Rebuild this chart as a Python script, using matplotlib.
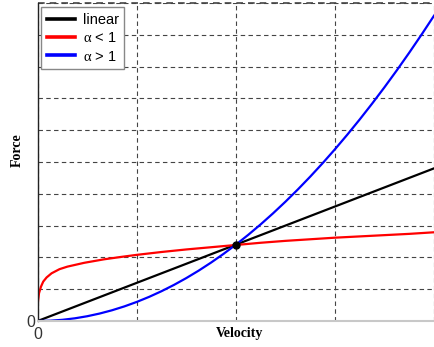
import matplotlib
matplotlib.use("Agg")
import matplotlib.pyplot as plt

# Force vs velocity for a damper F = c * v^alpha
velocity = [0.0, 0.125, 0.25, 0.375, 0.5, 0.625, 0.75, 0.875, 1.0, 1.125, 1.25, 1.375,
            1.5, 1.625, 1.75, 1.875, 2.0, 2.125, 2.25, 2.375, 2.5, 2.625, 2.75, 2.875,
            3.0, 3.125, 3.25, 3.375, 3.5, 3.625, 3.75, 3.875, 4.0]
force_linear = [0.0, 0.15, 0.3, 0.45, 0.6, 0.75, 0.9, 1.05, 1.2, 1.35, 1.5, 1.65,
                1.8, 1.95, 2.1, 2.25, 2.4, 2.55, 2.7, 2.85, 3.0, 3.15, 3.3, 3.45,
                3.6, 3.75, 3.9, 4.05, 4.2, 4.35, 4.5, 4.65, 4.8]
force_alpha_gt1 = [0.0, 0.0094, 0.0375, 0.0844, 0.15, 0.2344, 0.3375, 0.4594, 0.6, 0.7594,
                   0.9375, 1.1344, 1.35, 1.5844, 1.8375, 2.1094, 2.4, 2.7094, 3.0375, 3.3844,
                   3.75, 4.1344, 4.5375, 4.9594, 5.4, 5.8594, 6.3375, 6.8344, 7.35, 7.8844,
                   8.4375, 9.0094, 9.6]

velocity_lt1 = [0.003, 0.013, 0.033, 0.056, 0.09, 0.14, 0.22, 0.30, 0.47, 0.67, 0.83, 1.0,
                1.25, 1.5, 1.75, 2.0, 2.25, 2.5, 2.75, 3.0, 3.25, 3.5, 3.75, 4.0]
force_alpha_lt1 = [0.61, 0.87, 1.08, 1.24, 1.37, 1.50, 1.63, 1.71, 1.83, 1.94, 2.01, 2.08,
                   2.17, 2.25, 2.32, 2.39, 2.46, 2.52, 2.57, 2.62, 2.66, 2.70, 2.74, 2.79]

crossing_velocity = [2.0]
crossing_force = [2.4]
legend_labels = ["linear", r"$\alpha$ < 1", r"$\alpha$ > 1"]

plt.rcParams["font.family"] = ["Liberation Sans", "DejaVu Sans"]
plt.rcParams["mathtext.fontset"] = "custom"
plt.rcParams["mathtext.rm"] = "Liberation Serif"
plt.rcParams["mathtext.it"] = "Liberation Serif"
plt.rcParams["mathtext.bf"] = "Liberation Serif:bold"

W, H = 434, 347
fig = plt.figure(figsize=(W / 100, H / 100), dpi=100)
left, right, bottom, top = 37.7, 434.0, 321.0, 3.0
ax = fig.add_axes([left / W, 1 - bottom / H, (right - left) / W, (bottom - top) / H])

ax.set_xlim(0, (right - left) / 100.7)
ax.set_ylim(0, 10.0)

# grid and the single "0" labels
ax.set_xticks([0, 1, 2, 3, 4])
ax.set_yticks(list(range(11)))
ax.set_xticklabels(["0", "", "", "", ""])
ax.set_yticklabels(["0"] + [""] * 10)
ax.tick_params(axis="both", length=0, labelsize=11.5, colors="#333333")
ax.tick_params(axis="y", pad=2)
ax.tick_params(axis="x", pad=4)
ax.set_yticks([1, 2, 3, 4], minor=True)
ax.tick_params(axis="y", which="minor", length=2, width=1, color="#9cc8e8", direction="out")
ax.grid(True, which="major", color="#444444", linestyle=(0, (4, 3)), linewidth=0.8)
ax.set_axisbelow(True)

for s in ("top", "right"):
    ax.spines[s].set_visible(False)
ax.spines["left"].set_color("#222222")
ax.spines["left"].set_linewidth(1.0)
ax.spines["bottom"].set_color("#c8c8c8")
ax.spines["bottom"].set_linewidth(1.5)

# dashed top border
ax.axhline(10.0, color="#444444", linestyle=(0, (4, 3)), linewidth=1.2, clip_on=False)

l1, = ax.plot(velocity, force_linear, color="black", lw=1.6, label=legend_labels[0])
l2, = ax.plot(velocity_lt1, force_alpha_lt1, color="red", lw=1.6, label=legend_labels[1])
l3, = ax.plot(velocity, force_alpha_gt1, color="blue", lw=1.6, label=legend_labels[2])
ax.plot(crossing_velocity, crossing_force, "o", color="black", ms=5, zorder=5)

ax.set_xlabel("Velocity", family="Liberation Serif", fontweight="bold", fontsize=10)
ax.set_ylabel("Force", family="Liberation Serif", fontweight="bold", fontsize=10)
ax.xaxis.set_label_coords((240 - left) / (right - left), -(334 - bottom) / (bottom - top))
ax.xaxis.label.set_va("center")
ax.yaxis.set_label_coords(-(left - 17) / (right - left), (bottom - 150) / (bottom - top))
ax.yaxis.label.set_va("center")

leg = fig.legend(handles=[l1, l2, l3], labels=legend_labels, loc="upper left",
                 bbox_to_anchor=(41 / W, 1 - 7 / H), bbox_transform=fig.transFigure,
                 borderaxespad=0, fancybox=False, framealpha=1, edgecolor="#888888",
                 fontsize=10.5, handlelength=1.9, handletextpad=0.55,
                 labelspacing=0.3, borderpad=0.4)
for h in leg.legend_handles:
    h.set_linewidth(2.6)
leg.get_frame().set_linewidth(1.0)

fig.savefig("out.png", dpi=100)
